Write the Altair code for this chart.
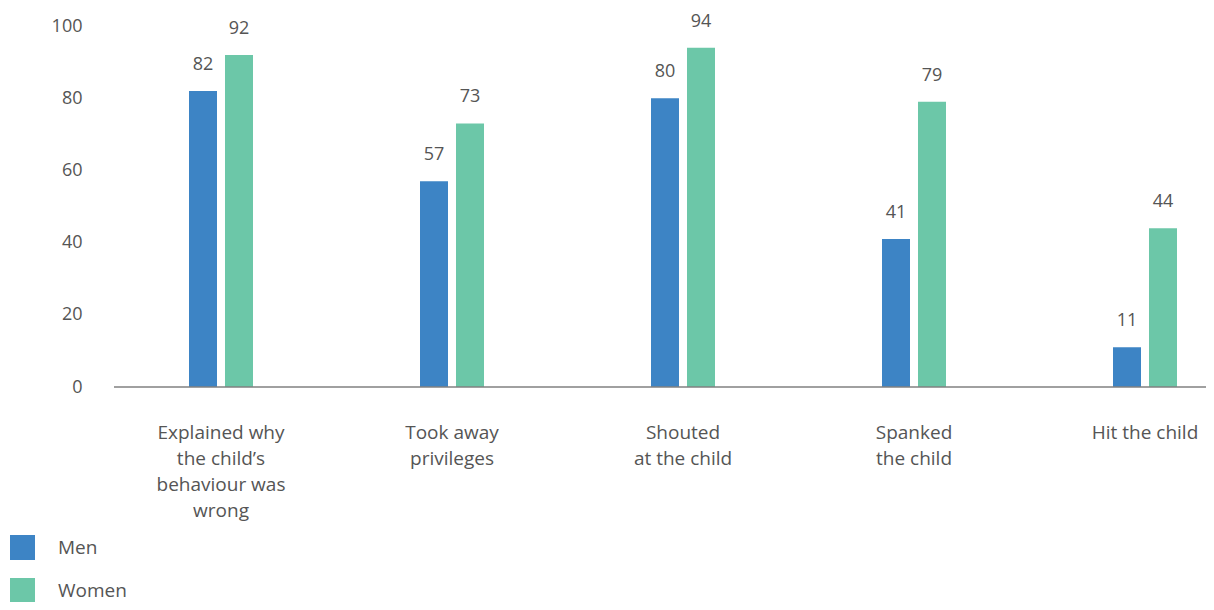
import altair as alt
import pandas as pd

categories = [
    "Explained why|the child’s|behaviour was|wrong",
    "Took away|privileges",
    "Shouted|at the child",
    "Spanked|the child",
    "Hit the child",
]
men = [82, 57, 80, 41, 11]
women = [92, 73, 94, 79, 44]
groups = ["Men", "Women"]
colors = ["#3D84C5", "#6CC7A8"]
y_ticks = [0, 20, 40, 60, 80, 100]

rows = []
for c, m, w in zip(categories, men, women):
    rows.append({"category": c, "group": "Men", "value": m})
    rows.append({"category": c, "group": "Women", "value": w})
df = pd.DataFrame(rows)

TEXT = "#555555"
FONT = "Open Sans"
W, H = 1092, 361

x_enc = alt.X(
    "category:N",
    sort=categories,
    scale=alt.Scale(range=[-8.5, 1146.5], paddingInner=0, paddingOuter=0),
    axis=alt.Axis(
        title=None,
        domain=False,
        ticks=False,
        tickSize=0,
        grid=False,
        labelAngle=0,
        labelExpr="split(datum.label, '|')",
        labelFontSize=19,
        labelFont=FONT,
        labelColor=TEXT,
        labelPadding=36,
        labelLineHeight=26,
        labelBaseline="top",
    ),
)
xo_enc = alt.XOffset(
    "group:N",
    sort=groups,
    scale=alt.Scale(range=[83.5, 147.5], paddingInner=0.2222, paddingOuter=0),
)
y_enc = alt.Y(
    "value:Q",
    scale=alt.Scale(domain=[0, 100], nice=False),
    axis=alt.Axis(
        title=None,
        values=y_ticks,
        domain=False,
        ticks=False,
        tickSize=0,
        grid=False,
        labelFontSize=18,
        labelFont=FONT,
        labelColor=TEXT,
        labelPadding=32,
    ),
)

bars = alt.Chart(df).mark_bar().encode(
    x=x_enc,
    xOffset=xo_enc,
    y=y_enc,
    color=alt.Color(
        "group:N",
        scale=alt.Scale(domain=groups, range=colors),
        legend=alt.Legend(
            title=None,
            orient="none",
            legendX=-104,
            legendY=509,
            direction="vertical",
            symbolType="square",
            symbolSize=625,
            symbolStrokeWidth=0,
            symbolOpacity=1,
            labelFontSize=19,
            labelFont=FONT,
            labelColor=TEXT,
            labelOffset=23,
            rowPadding=18,
            padding=0,
        ),
    ),
)

labels = alt.Chart(df).mark_text(
    dy=-26, baseline="middle", fontSize=18, font=FONT, color=TEXT
).encode(
    x=alt.X("category:N", sort=categories),
    xOffset=alt.XOffset("group:N", sort=groups),
    y="value:Q",
    text="value:Q",
)

base = pd.DataFrame({"v": [0]})
baseline = alt.Chart(base).mark_rule(color="#808080", strokeWidth=1.5).encode(
    y=alt.Y("v:Q"),
    x=alt.value(0),
    x2=alt.value(W),
)

chart = (
    alt.layer(bars, labels, baseline)
    .properties(
        width=W,
        height=H,
        autosize=alt.AutoSizeParams(type="none"),
        padding={"left": 106, "top": 18, "right": 0, "bottom": 215},
    )
    .configure_view(stroke=None)
)

chart.save("out.html", embed_options={"renderer": "svg", "actions": False})
